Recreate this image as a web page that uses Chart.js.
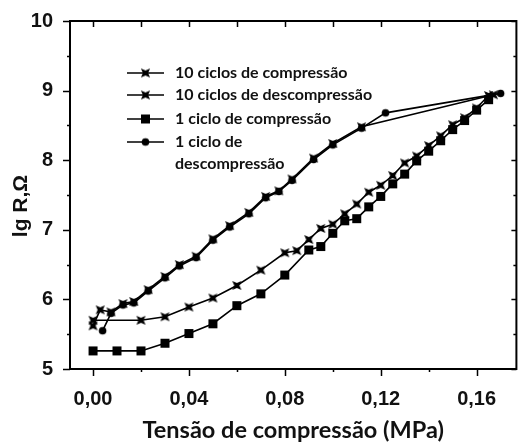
<!DOCTYPE html>
<html>
<head>
<meta charset="utf-8">
<script src="https://cdn.jsdelivr.net/npm/chart.js@4.4.1/dist/chart.umd.min.js"></script>
<style>
  html, body { margin: 0; padding: 0; background: #fff; }
</style>
</head>
<body>
<canvas id="chart1" width="523" height="444"></canvas>
<script>
// tick values and labels
const xTicks = [0, 0.04, 0.08, 0.12, 0.16];
const xTickLabels = ['0,00', '0,04', '0,08', '0,12', '0,16'];
const xMinor = [0.02, 0.06, 0.10, 0.14];
const yTicks = [5, 6, 7, 8, 9, 10];
const yTickLabels = ['5', '6', '7', '8', '9', '10'];
const yMinor = [5.5, 6.5, 7.5, 8.5, 9.5];

const labels = [
  '10 ciclos de compressão',
  '10 ciclos de descompressão',
  '1 ciclo de compressão',
  ['1 ciclo de', 'descompressão'],
];

// 10 ciclos de compressão
const comp10X = [0, 0.02, 0.03, 0.04, 0.05, 0.06, 0.07, 0.08, 0.085, 0.09, 0.095, 0.10, 0.105, 0.11, 0.115, 0.12, 0.125, 0.13, 0.135, 0.14, 0.145, 0.15, 0.155, 0.16, 0.165];
const comp10Y = [5.70, 5.70, 5.75, 5.89, 6.02, 6.20, 6.42, 6.67, 6.70, 6.86, 7.02, 7.08, 7.23, 7.37, 7.54, 7.64, 7.78, 7.96, 8.06, 8.21, 8.35, 8.51, 8.61, 8.75, 8.93];

// 10 ciclos de descompressão
const desc10X = [0.167, 0.112, 0.10, 0.092, 0.083, 0.0775, 0.072, 0.065, 0.057, 0.050, 0.043, 0.036, 0.030, 0.023, 0.017, 0.0125, 0.0075, 0.003, 0];
const desc10Y = [8.94, 8.48, 8.24, 8.03, 7.73, 7.56, 7.48, 7.25, 7.06, 6.87, 6.62, 6.50, 6.33, 6.14, 5.97, 5.94, 5.82, 5.85, 5.62];

// 1 ciclo de compressão
const comp1X = [0, 0.01, 0.02, 0.03, 0.04, 0.05, 0.06, 0.07, 0.08, 0.09, 0.095, 0.10, 0.105, 0.11, 0.115, 0.12, 0.125, 0.13, 0.135, 0.14, 0.145, 0.15, 0.155, 0.16, 0.165];
const comp1Y = [5.26, 5.26, 5.26, 5.37, 5.51, 5.65, 5.91, 6.08, 6.35, 6.71, 6.76, 6.95, 7.13, 7.16, 7.33, 7.48, 7.66, 7.80, 7.99, 8.13, 8.28, 8.44, 8.57, 8.72, 8.87];

// 1 ciclo de descompressão
const desc1X = [0.170, 0.122, 0.112, 0.10, 0.092, 0.083, 0.0775, 0.072, 0.065, 0.057, 0.050, 0.043, 0.036, 0.030, 0.023, 0.017, 0.0125, 0.0075, 0.004];
const desc1Y = [8.96, 8.68, 8.46, 8.22, 8.01, 7.71, 7.55, 7.46, 7.23, 7.04, 6.85, 6.60, 6.48, 6.31, 6.12, 5.95, 5.92, 5.80, 5.55];

const pairs = (xs, ys) => xs.map((x, i) => ({ x: x, y: ys[i] }));

// marker images
function marker(kind) {
  const c = document.createElement('canvas');
  c.width = 11; c.height = 11;
  const g = c.getContext('2d');
  g.fillStyle = '#000';
  g.translate(5.5, 5.5);
  g.beginPath();
  if (kind === 'bowtie') {
    const a = 4.6, b = 2.6;
    g.moveTo(-a, -a); g.lineTo(0, -b); g.lineTo(a, -a); g.lineTo(b, 0);
    g.lineTo(a, a); g.lineTo(0, b); g.lineTo(-a, a); g.lineTo(-b, 0);
    g.closePath();
  } else if (kind === 'square') {
    g.rect(-4.5, -4.5, 9, 9);
  } else {
    g.arc(0, 0, 3.8, 0, Math.PI * 2);
  }
  g.fill();
  return c;
}
const mBow = marker('bowtie');
const mSq = marker('square');
const mCirc = marker('circle');

function ds(i, data, img) {
  return {
    label: Array.isArray(labels[i]) ? labels[i].join(' ') : labels[i],
    data: data,
    showLine: true,
    borderColor: '#000',
    borderWidth: 1.6,
    pointStyle: img,
    pointRadius: 5,
    tension: 0,
  };
}

const datasets = [
  ds(0, pairs(comp10X, comp10Y), mBow),
  ds(1, pairs(desc10X, desc10Y), mBow),
  ds(2, pairs(comp1X, comp1Y), mSq),
  ds(3, pairs(desc1X, desc1Y), mCirc),
];

const frame = {
  id: 'frame',
  afterDraw(chart) {
    const { ctx, chartArea: a, scales: { x, y } } = chart;
    ctx.save();
    ctx.strokeStyle = '#000';
    ctx.lineWidth = 2;
    ctx.strokeRect(a.left, a.top, a.right - a.left, a.bottom - a.top);

    ctx.lineWidth = 1.5;
    ctx.beginPath();
    xTicks.forEach(v => {
      const px = Math.round(x.getPixelForValue(v)) + 0.5;
      ctx.moveTo(px, a.bottom); ctx.lineTo(px, a.bottom + 7);
      ctx.moveTo(px, a.top); ctx.lineTo(px, a.top + 6);
    });
    xMinor.forEach(v => {
      const px = Math.round(x.getPixelForValue(v)) + 0.5;
      ctx.moveTo(px, a.bottom); ctx.lineTo(px, a.bottom + 3);
      ctx.moveTo(px, a.top); ctx.lineTo(px, a.top + 6);
    });
    yTicks.forEach(v => {
      const py = Math.round(y.getPixelForValue(v)) + 0.5;
      ctx.moveTo(a.left - 7, py); ctx.lineTo(a.left, py);
      ctx.moveTo(a.right - 5, py); ctx.lineTo(a.right, py);
    });
    yMinor.forEach(v => {
      const py = Math.round(y.getPixelForValue(v)) + 0.5;
      ctx.moveTo(a.left - 3, py); ctx.lineTo(a.left, py);
      ctx.moveTo(a.right - 3, py); ctx.lineTo(a.right, py);
    });
    ctx.stroke();

    // axis titles
    ctx.fillStyle = '#111';
    ctx.textAlign = 'center';
    ctx.textBaseline = 'alphabetic';
    ctx.font = 'bold 23.5px Lato';
    ctx.fillText('Tensão de compressão (MPa)', (a.left + a.right) / 2, 438);

    ctx.save();
    ctx.translate(27, 206);
    ctx.rotate(-Math.PI / 2);
    ctx.font = 'bold 21px "Liberation Sans"';
    ctx.fillText('lg R,\u03A9', 0, 0);
    ctx.restore();

    // legend
    const rows = [73, 95, 119, 142];
    ctx.font = 'bold 16px Lato';
    ctx.textAlign = 'left';
    ctx.textBaseline = 'middle';
    chart.data.datasets.forEach((d, i) => {
      const ry = rows[i];
      ctx.lineWidth = 1.6;
      ctx.beginPath();
      ctx.moveTo(127, ry); ctx.lineTo(164, ry);
      ctx.stroke();
      const img = d.pointStyle;
      ctx.drawImage(img, 145.5 - img.width / 2, ry - img.height / 2);
      const lab = labels[i];
      if (Array.isArray(lab)) {
        lab.forEach((t, j) => ctx.fillText(t, 175, ry + j * 22));
      } else {
        ctx.fillText(lab, 175, ry);
      }
    });
    ctx.restore();
  }
};

new Chart(
  document.getElementById('chart1'),
  {
    type: 'scatter',
    data: { datasets: datasets },
    options: {
      responsive: false,
      animation: false,
      layout: { padding: { top: 19, right: 1, left: 0, bottom: 0 } },
      plugins: { legend: { display: false }, tooltip: { enabled: false } },
      scales: {
        x: {
          type: 'linear',
          min: -0.0096,
          max: 0.1766,
          grid: { display: false },
          border: { display: false },
          afterFit: (s) => { s.height = 75; },
          afterBuildTicks: (s) => { s.ticks = xTicks.map(v => ({ value: v })); },
          ticks: {
            color: '#111',
            padding: 10,
            maxRotation: 0,
            font: { family: '"Liberation Sans"', size: 20, weight: 'bold' },
            callback: (v) => xTickLabels[xTicks.indexOf(v)],
          },
        },
        y: {
          min: 5,
          max: 10,
          grid: { display: false },
          border: { display: false },
          afterFit: (s) => { s.width = 70; },
          afterBuildTicks: (s) => { s.ticks = yTicks.map(v => ({ value: v })); },
          ticks: {
            color: '#111',
            padding: 9,
            font: { family: '"Liberation Sans"', size: 20, weight: 'bold' },
            callback: (v) => yTickLabels[yTicks.indexOf(v)],
          },
        },
      },
    },
    plugins: [frame],
  }
);
</script>
</body>
</html>
